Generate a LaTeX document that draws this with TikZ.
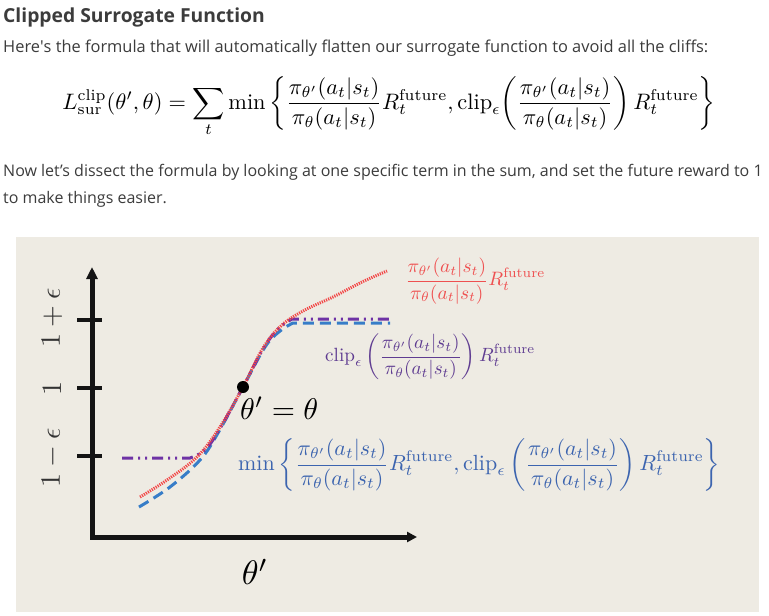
\documentclass[tikz,border=0pt]{standalone}
\usepackage{amsmath}
\usepackage{graphicx}
\usepackage{fontspec}
\newfontfamily\osans{Open Sans}
\usetikzlibrary{arrows.meta}
\definecolor{panel}{RGB}{238,235,227}
\definecolor{txt}{RGB}{60,60,60}
\definecolor{redc}{RGB}{242,70,70}
\definecolor{redtxt}{RGB}{238,80,80}
\definecolor{bluec}{RGB}{55,125,200}
\definecolor{purplec}{RGB}{110,50,165}
\definecolor{purpletxt}{RGB}{95,60,145}
\definecolor{bluetxt}{RGB}{60,100,175}
\newcommand\myratio{\frac{\pi_{\theta'}(a_t|s_t)}{\pi_\theta(a_t|s_t)}}
\newcommand\myRf{R_t^{\mathrm{future}}}
\tikzset{
  webtext/.style={anchor=base west, inner sep=0, text=txt, font=\osans\fontsize{16}{19}\selectfont},
  mathlab/.style={inner sep=0},
  axisline/.style={line width=5pt, draw=black!92},
  tickline/.style={line width=3.5pt, draw=black!92},
  ticklab/.style={inner sep=0, rotate=90, scale=2.8, text=black!80},
  redline/.style={draw=redc, line width=3pt, dash pattern=on 1.2pt off 1.1pt},
  blueline/.style={draw=bluec, line width=3pt, dash pattern=on 11pt off 6pt},
  purpleline/.style={draw=purplec, line width=3pt, dash pattern=on 11pt off 5pt on 2pt off 5pt on 2pt off 5pt},
}
\begin{document}
\begin{tikzpicture}[x=1pt,y=-1pt]
\useasboundingbox (0,0) rectangle (769,616);
\fill[white] (0,0) rectangle (769,616);
% web page text
\node[webtext, font=\osans\bfseries\fontsize{19.3}{23}\selectfont] (title) at (3,22) {Clipped Surrogate Function};
\node[webtext, font=\osans\fontsize{16.4}{19}\selectfont] (intro) at (3,52) {Here\textquotesingle s the formula that will automatically flatten our surrogate function to avoid all the cliffs:};
\node[mathlab] (formula) at (389,107) {\resizebox{653pt}{!}{$\displaystyle L^{\mathrm{clip}}_{\mathrm{sur}}(\theta',\theta)=\sum_t \min\left\{\myratio\myRf,\mathrm{clip}_\epsilon\!\left(\myratio\right)\myRf\right\}$}};
\node[webtext] (para1) at (3,176) {Now let’s dissect the formula by looking at one specific term in the sum, and set the future reward to 1};
\node[webtext] (para2) at (3,203) {to make things easier.};
% panel
\fill[panel] (16,237) rectangle (759,612);
% axes
\coordinate (ytip) at (92,267);
\coordinate (orig) at (92,537);
\coordinate (xtip) at (417,537);
\draw[axisline, line join=miter, {Triangle[length=12pt,width=11pt]}-{Triangle[length=10pt,width=10pt]}] (ytip) -- (orig) -- (xtip);
% ticks
\coordinate (t1a) at (77,320); \coordinate (t1b) at (102,320);
\coordinate (t2a) at (77,388); \coordinate (t2b) at (102,388);
\coordinate (t3a) at (77,456); \coordinate (t3b) at (102,456);
\draw[tickline] (t1a) -- (t1b);
\draw[tickline] (t2a) -- (t2b);
\draw[tickline] (t3a) -- (t3b);
\node[ticklab] (lhi) at (52,318) {$1+\epsilon$};
\node[ticklab] (lone) at (52,388) {$1$};
\node[ticklab] (llo) at (52,458) {$1-\epsilon$};
% curves
\draw[blueline] plot[smooth,tension=0.6] coordinates {(139,507) (170,487) (200,460) (218,433) (243,387) (265,347) (280,331) (293,323)} -- (390,323);
\draw[purpleline] (122,458) -- plot[smooth,tension=0.6] coordinates {(190,458) (206,449) (222,425) (243,387) (263,349) (278,329) (292,319)} -- (390,319);
\draw[redline] plot[smooth,tension=0.6] coordinates {(140,497) (167,480) (197,457) (220,427) (243,387) (263,348) (282,325) (305,310) (333,297) (362,282) (387,271)};
\node[circle, fill=black, inner sep=0, minimum size=12pt] (dot) at (243,387) {};
% labels
\node[mathlab, anchor=west, text=redtxt] (redlab) at (405,281) {\resizebox{140pt}{!}{$\displaystyle\myratio\myRf$}};
\node[mathlab, anchor=west, text=purpletxt] (cliplab) at (325,357) {\resizebox{210pt}{!}{$\displaystyle\mathrm{clip}_\epsilon\left(\myratio\right)\myRf$}};
\node[mathlab, anchor=west] (eqlab) at (240,408) {\resizebox{78pt}{!}{$\theta'=\theta$}};
\node[mathlab, anchor=west, text=bluetxt] (minlab) at (238,465) {\resizebox{482pt}{!}{$\displaystyle\min\left\{\myratio\myRf,\mathrm{clip}_\epsilon\left(\myratio\right)\myRf\right\}$}};
\node[mathlab, scale=3.4] (xlab) at (255,572) {$\theta'$};
\end{tikzpicture}
\end{document}
